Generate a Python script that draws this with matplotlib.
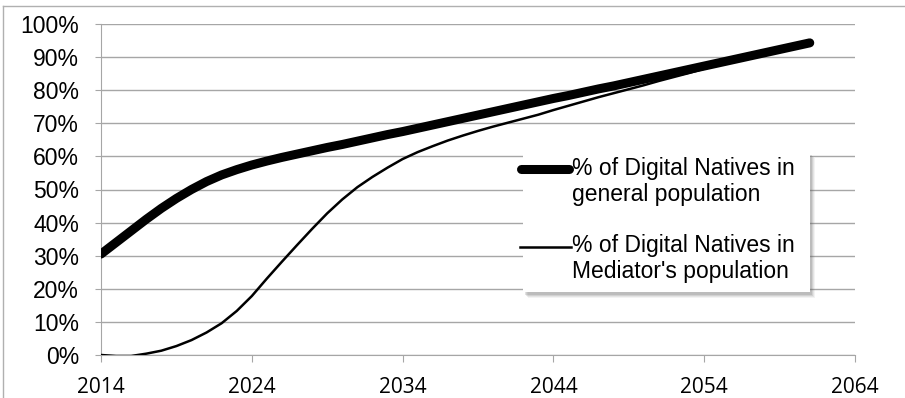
import matplotlib
matplotlib.use("Agg")
import matplotlib.pyplot as plt
from matplotlib.lines import Line2D
from matplotlib.patches import Rectangle

years = list(range(2014, 2062))
general = [30.5, 34, 37.5, 41, 44.3, 47.3, 50, 52.4, 54.4, 56, 57.4, 58.6, 59.7, 60.7,
           61.7, 62.7, 63.6, 64.6, 65.6, 66.6, 67.5, 68.5, 69.5, 70.5, 71.5, 72.5, 73.5,
           74.5, 75.5, 76.5, 77.5, 78.4, 79.4, 80.4, 81.3, 82.3, 83.3, 84.3, 85.3, 86.3,
           87.3, 88.3, 89.3, 90.3, 91.3, 92.3, 93.3, 94.3]
mediator = [0, -0.3, -0.3, 0.4, 1.3, 2.7, 4.5, 6.8, 9.6, 13.3, 17.8, 23.1, 28.2, 33.2,
            38.1, 42.8, 47, 50.7, 53.8, 56.6, 59.2, 61.3, 63.1, 64.8, 66.3, 67.7, 69,
            70.2, 71.4, 72.6, 74, 75.3, 76.6, 77.9, 79.1, 80.3, 81.5, 82.8, 84, 85.2,
            86.5, 87.7, 88.9, 90.1, 91.2, 92.3, 93.3, 94.3]
labels = ["% of Digital Natives in\ngeneral population",
          "% of Digital Natives in\nMediator's population"]
xticks = [2014, 2024, 2034, 2044, 2054, 2064]
yticks = list(range(0, 101, 10))

W, H = 905, 398
fig = plt.figure(figsize=(W / 100, H / 100), dpi=100)
ax = fig.add_axes([101 / W, (H - 355) / H, (855 - 101) / W, (355 - 24) / H])

grid_c = "#a6a6a6"
ax.plot(years, general, color="black", lw=6.5, solid_capstyle="round",
        solid_joinstyle="round", zorder=3)
ax.plot(years, mediator, color="black", lw=1.8, solid_joinstyle="round", zorder=4)

ax.set_xlim(2014, 2064)
ax.set_ylim(0, 100)
ax.set_xticks(xticks)
ax.set_yticks(yticks)
ax.set_yticklabels([f"{v}%" for v in yticks], fontfamily="Liberation Sans", fontsize=16.5)
ax.set_xticklabels([str(v) for v in xticks], fontfamily="Open Sans", fontsize=15)
for t in yticks:
    ax.axhline(t, color=grid_c, lw=1.0, zorder=1)
for s in ["top", "right"]:
    ax.spines[s].set_visible(False)
ax.spines["left"].set_color(grid_c)
ax.spines["bottom"].set_color(grid_c)
ax.tick_params(axis="y", length=4.3, color=grid_c, pad=11.5)
ax.tick_params(axis="x", length=5, color=grid_c, pad=10.5)

# legend drawn in figure pixel space (handles sit on first text line as in the source)
def fx(px):
    return px / W

def fy(py):
    return (H - py) / H

for off, alpha in [(6, 0.07), (5, 0.10), (4, 0.14), (3, 0.18)]:
    fig.add_artist(Rectangle((fx(523 + off - 1), fy(292 + off)), (810 - 523) / W, (292 - 152) / H,
                             facecolor="#606060", edgecolor="none", alpha=alpha, zorder=5))
fig.add_artist(Rectangle((fx(523), fy(292)), (810 - 523) / W, (292 - 152) / H,
                         facecolor="white", edgecolor="none", zorder=6))
fig.add_artist(Line2D([fx(521), fx(569)], [fy(169), fy(169)], color="black", lw=6.5,
                      solid_capstyle="round", zorder=7))
fig.add_artist(Line2D([fx(520), fx(571)], [fy(247), fy(247)], color="black", lw=1.8, zorder=7))
for lab, cy in zip(labels, [181.5, 258.5]):
    fig.text(fx(572), fy(cy), lab, fontfamily="Liberation Sans", fontsize=16.5,
             ha="left", va="center", linespacing=1.17, zorder=8)

# outer frame
fig.add_artist(Line2D([3 / W, 3 / W], [0, (H - 6) / H], color="#b0b0b0", lw=1))
fig.add_artist(Line2D([3 / W, 1], [(H - 6) / H, (H - 6) / H], color="#b0b0b0", lw=1))

fig.savefig("out.png", dpi=100)
